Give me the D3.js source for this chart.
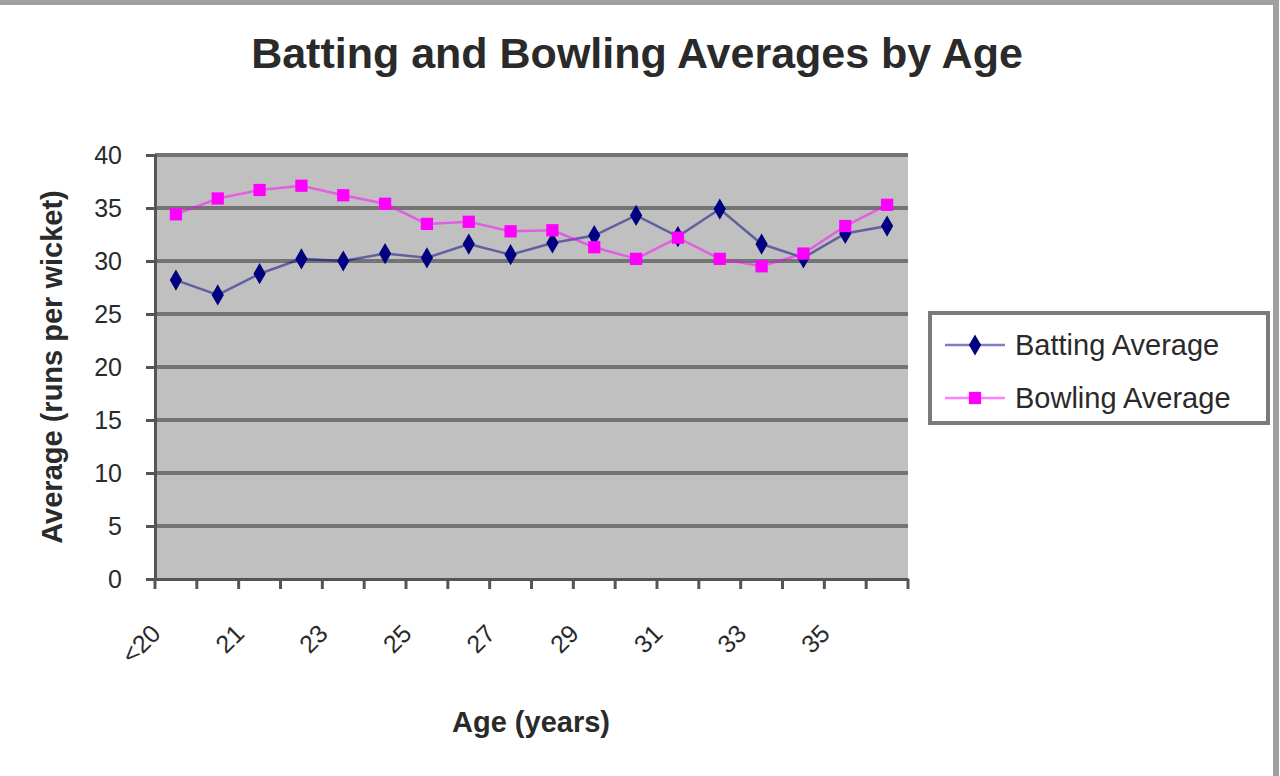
<!DOCTYPE html>
<html>
<head>
<meta charset="utf-8">
<script src="https://cdn.jsdelivr.net/npm/d3@7"></script>
<style>
  body { margin: 0; background: #fff; }
  svg text { font-family: "Liberation Sans", Arial, sans-serif; fill: #2a2a2a; }
</style>
</head>
<body>
<svg width="1280" height="776"></svg>
<script>
const ages = ["<20", "20", "21", "22", "23", "24", "25", "26", "27", "28", "29", "30", "31", "32", "33", "34", "35", "36"]
const battingAverage = [28.2, 26.8, 28.8, 30.2, 30.0, 30.7, 30.3, 31.6, 30.6, 31.7, 32.4, 34.3, 32.3, 34.9, 31.6, 30.3, 32.6, 33.3]
const bowlingAverage = [34.4, 35.9, 36.7, 37.1, 36.2, 35.4, 33.5, 33.7, 32.8, 32.9, 31.3, 30.2, 32.2, 30.2, 29.5, 30.7, 33.3, 35.3]
const yTicks = [0, 5, 10, 15, 20, 25, 30, 35, 40]

const SERIES = [
  { name: "Batting Average", values: battingAverage, color: "#000080", symbol: d3.symbolDiamond, size: 130 },
  { name: "Bowling Average", values: bowlingAverage, color: "#ff00ff", symbol: d3.symbolSquare, size: 150 }
]

const [PLOT_LEFT, PLOT_RIGHT, PLOT_TOP, PLOT_BOTTOM] = [155, 908, 155, 579]

const svg = d3.select("svg")

// chart frame (top and right edges visible)
svg.append("rect")
  .attr("x", -10).attr("y", 2)
  .attr("width", 1286).attr("height", 800)
  .attr("fill", "none")
  .attr("stroke", "#a0a0a0")
  .attr("stroke-width", 6)

const x = d3.scaleBand().domain(ages).range([PLOT_LEFT, PLOT_RIGHT])
const y = d3.scaleLinear().domain([0, 40]).range([PLOT_BOTTOM, PLOT_TOP])
const cx = (d) => x(d) + x.bandwidth() / 2

// plot area
svg.append("rect")
  .attr("x", PLOT_LEFT).attr("y", PLOT_TOP)
  .attr("width", PLOT_RIGHT - PLOT_LEFT).attr("height", PLOT_BOTTOM - PLOT_TOP)
  .attr("fill", "#c0c0c0")

// gridlines
svg.append("g")
  .selectAll("line")
  .data(yTicks.filter((t) => t > 0))
  .enter()
  .append("line")
  .attr("x1", PLOT_LEFT).attr("x2", PLOT_RIGHT)
  .attr("y1", (t) => y(t)).attr("y2", (t) => y(t))
  .attr("stroke", "#747474")
  .attr("stroke-width", 4)

// y axis
const yAxis = svg.append("g")
  .attr("transform", `translate(${PLOT_LEFT},0)`)
  .call(d3.axisLeft(y).tickValues(yTicks).tickSize(9).tickPadding(24))
yAxis.selectAll("text").style("font-size", "25px").attr("fill", "#555")
yAxis.selectAll("line").attr("stroke", "#555").attr("stroke-width", 3)
yAxis.select(".domain").attr("stroke", "#555").attr("stroke-width", 3)

// x axis
const xAxis = svg.append("g")
  .attr("transform", `translate(0,${PLOT_BOTTOM})`)
  .call(d3.axisBottom(x).tickSize(0).tickFormat((d, i) => (i % 2 === 0 ? d : "")))
xAxis.select(".domain").attr("stroke", "#555").attr("stroke-width", 3)
xAxis.selectAll("text")
  .style("font-size", "25px")
  .attr("fill", "#555")
  .attr("text-anchor", "end")
  .attr("transform", "translate(-20,50) rotate(-45)")
  .attr("dy", "0.35em")
  .attr("y", 0)

// boundary tick marks on category axis
svg.append("g")
  .selectAll("line")
  .data(ages.map((d) => x(d)).concat([PLOT_RIGHT]))
  .enter()
  .append("line")
  .attr("x1", (v) => v).attr("x2", (v) => v)
  .attr("y1", PLOT_BOTTOM).attr("y2", PLOT_BOTTOM + 10)
  .attr("stroke", "#555")
  .attr("stroke-width", 3)

// series
const line = (values) => d3.line().x((v, i) => cx(ages[i])).y((v) => y(v))(values)

SERIES.forEach((s) => {
  svg.append("path")
    .attr("d", line(s.values))
    .attr("fill", "none")
    .attr("stroke", s.color)
    .attr("stroke-opacity", 0.5)
    .attr("stroke-width", 2.5)

  svg.append("g")
    .selectAll("path")
    .data(s.values)
    .enter()
    .append("path")
    .attr("d", d3.symbol().type(s.symbol).size(s.size))
    .attr("transform", (v, i) => `translate(${cx(ages[i])},${y(v)})`)
    .attr("fill", s.color)
})

// titles
svg.append("text")
  .attr("x", 637).attr("y", 68)
  .attr("text-anchor", "middle")
  .style("font-size", "43px")
  .style("font-weight", "bold")
  .text("Batting and Bowling Averages by Age")

svg.append("text")
  .attr("x", 531).attr("y", 732)
  .attr("text-anchor", "middle")
  .style("font-size", "29px")
  .style("font-weight", "bold")
  .text("Age (years)")

svg.append("text")
  .attr("transform", "translate(62,367) rotate(-90)")
  .attr("text-anchor", "middle")
  .style("font-size", "29px")
  .style("font-weight", "bold")
  .text("Average (runs per wicket)")

// legend
const legend = svg.append("g")
legend.append("rect")
  .attr("x", 930).attr("y", 313)
  .attr("width", 338).attr("height", 110)
  .attr("fill", "#fff")
  .attr("stroke", "#7a7a7a")
  .attr("stroke-width", 4)

SERIES.forEach((s, i) => {
  const ly = 345 + i * 53
  legend.append("line")
    .attr("x1", 945).attr("x2", 1005)
    .attr("y1", ly).attr("y2", ly)
    .attr("stroke", s.color)
    .attr("stroke-opacity", 0.5)
    .attr("stroke-width", 2.5)
  legend.append("path")
    .attr("d", d3.symbol().type(s.symbol).size(s.size))
    .attr("transform", `translate(975,${ly})`)
    .attr("fill", s.color)
  legend.append("text")
    .attr("x", 1015).attr("y", ly)
    .attr("dy", "0.35em")
    .style("font-size", "29px")
    .attr("fill", "#444")
    .text(s.name)
})
</script>
</body>
</html>
